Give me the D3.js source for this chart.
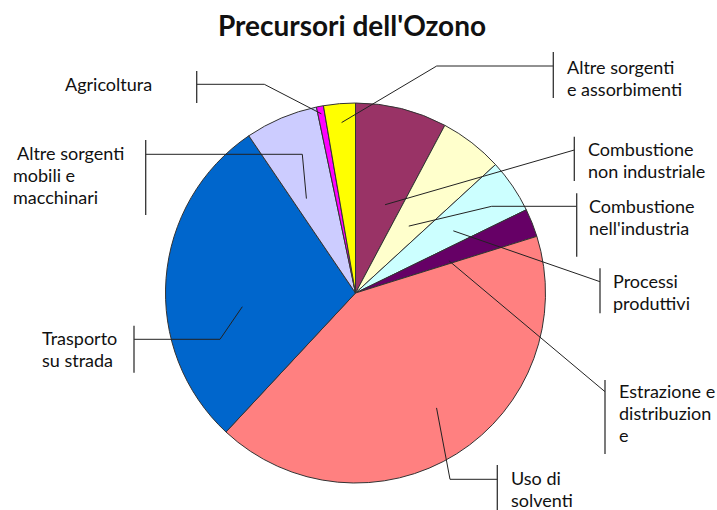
<!DOCTYPE html>
<html>
<head>
  <meta charset="utf-8">
  <title>Precursori dell'Ozono</title>
  <script src="https://d3js.org/d3.v7.min.js"></script>
  <style>
    body { margin: 0; background: #fff; }
    svg { display: block; }
    .label { font-family: Lato, "DejaVu Sans", sans-serif; font-size: 18px; fill: #111; }
    .title { font-family: Lato, "DejaVu Sans", sans-serif; font-size: 28px; font-weight: bold; fill: #111; }
  </style>
</head>
<body>
<div id="chart"></div>
<script>
// data (percent share of each source)
const categories = [
  "Combustione non industriale",
  "Combustione nell'industria",
  "Processi produttivi",
  "Estrazione e distribuzione",
  "Uso di solventi",
  "Trasporto su strada",
  "Altre sorgenti mobili e macchinari",
  "Agricoltura",
  "Altre sorgenti e assorbimenti"
];
const values = [7.8, 5.4, 4.6, 2.4, 41.8, 28.6, 6.2, 0.6, 2.7];
const colors = ["#993366", "#FFFFCC", "#CCFFFF", "#660066", "#FF8080",
                "#0066CC", "#CCCCFF", "#FF00FF", "#FFFF00"];

// label text as wrapped in the picture
const labelLines = [
  ["Combustione", "non industriale"],
  ["Combustione", "nell'industria"],
  ["Processi", "produttivi"],
  ["Estrazione e", "distribuzion", "e"],
  ["Uso di", "solventi"],
  ["Trasporto", "su strada"],
  ["\u00a0Altre sorgenti", "mobili e", "macchinari"],
  ["Agricoltura"],
  ["Altre sorgenti", "e assorbimenti"]
];

// leader line layout: anchor inside slice (t along angle, k along radius), bends, label box
const layout = [
  { t: 0.66, k: 0.49, pts: [[574.3, 150]], bx: 574.3, by: [136.7, 181], tx: 588, ty: 149.3 },
  { t: 0.54, k: 0.45, pts: [[491.7, 206.3], [576.7, 206.3]], bx: 576.7, by: [193.3, 256.7], tx: 589, ty: 205.7 },
  { t: 0.61, k: 0.61, pts: [[600, 281.7]], bx: 600, by: [268.3, 313.3], tx: 613, ty: 281 },
  { t: 0.8, k: 0.52, pts: [[605, 391.7]], bx: 605, by: [380, 454], tx: 619, ty: 391 },
  { t: 0.48, k: 0.74, pts: [[450, 479.3], [497.3, 479.3]], bx: 497.3, by: [465, 512], tx: 511, ty: 478.3 },
  { t: 0.39, k: 0.6, pts: [[220, 339.3], [134, 339.3]], bx: 134, by: [325.7, 372.7], tx: 42, ty: 337.7 },
  { t: 0.3, k: 0.56, pts: [[302.3, 154.3], [145.7, 154.3]], bx: 145.7, by: [140, 215], tx: 13, ty: 153.3 },
  { t: 0.5, k: 0.96, pts: [[264.3, 84.3], [196.7, 84.3]], bx: 196.7, by: [71, 103], tx: 65, ty: 84 },
  { t: 0.52, k: 0.9, pts: [[436.7, 66], [553.3, 66]], bx: 553.3, by: [52, 98], tx: 567, ty: 66.7 }
];

const width = 717, height = 510;
const cx = 355.5, cy = 293, radius = 190;
const lineH = 22;

const svg = d3.select("#chart")
  .append("svg")
  .attr("width", width)
  .attr("height", height);

svg.append("text")
  .attr("class", "title")
  .attr("x", 352)
  .attr("y", 36)
  .attr("text-anchor", "middle")
  .text("Precursori dell'Ozono");

const data = categories.map((c, i) => ({ name: c, value: values[i], color: colors[i], i: i }));

const pie = d3.pie().sort(null).value(d => d.value).startAngle(0).endAngle(2 * Math.PI);
const arc = d3.arc().innerRadius(0).outerRadius(radius);
const arcs = pie(data);

const g = svg.append("g").attr("transform", `translate(${cx},${cy})`);

g.selectAll("path.slice")
  .data(arcs)
  .enter()
  .append("path")
  .attr("class", "slice")
  .attr("d", arc)
  .attr("fill", d => d.data.color)
  .attr("stroke", "#333")
  .attr("stroke-width", 1)
  .attr("stroke-linejoin", "round");

// leader lines
const line = d3.line();
arcs.forEach((a, i) => {
  const L = layout[i];
  const ang = a.startAngle + L.t * (a.endAngle - a.startAngle);
  const start = [cx + L.k * radius * Math.sin(ang), cy - L.k * radius * Math.cos(ang)];
  svg.append("path")
    .attr("d", line([start].concat(L.pts)))
    .attr("fill", "none")
    .attr("stroke", "#222")
    .attr("stroke-width", 1);
  svg.append("line")
    .attr("x1", L.bx).attr("x2", L.bx)
    .attr("y1", L.by[0]).attr("y2", L.by[1])
    .attr("stroke", "#333")
    .attr("stroke-width", 1.3);
  const txt = svg.append("text")
    .attr("class", "label")
    .attr("x", L.tx)
    .attr("y", L.ty);
  labelLines[i].forEach((s, j) => {
    txt.append("tspan")
      .attr("x", L.tx)
      .attr("y", L.ty + j * lineH)
      .attr("dominant-baseline", "central")
      .text(s);
  });
});
</script>
</body>
</html>
